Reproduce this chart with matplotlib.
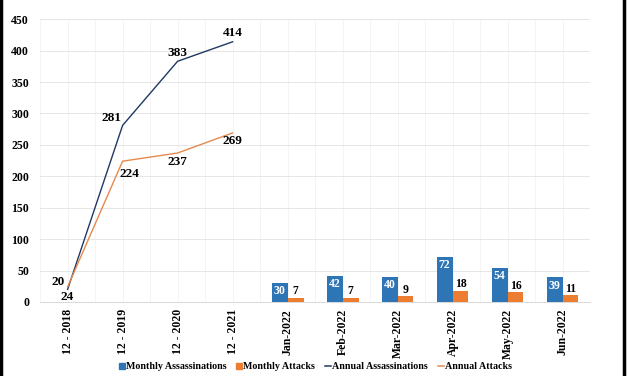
"""
Assassinations and attacks: annual totals as lines, monthly counts as bars.
"""
from matplotlib import pyplot as plt
from matplotlib.lines import Line2D
from matplotlib.patches import Patch
import numpy as np

categories = ['12 - 2018', '12 - 2019', '12 - 2020', '12 - 2021',
              'Jan-2022', 'Feb-2022', 'Mar-2022', 'Apr-2022', 'May-2022', 'Jun-2022']
annual_assassinations = [20, 281, 383, 414]
annual_attacks = [24, 224, 237, 269]
monthly_assassinations = [30, 42, 40, 72, 54, 39]
monthly_attacks = [7, 7, 9, 18, 16, 11]

BLUE_BAR = '#2E75B6'
ORANGE_BAR = '#ED7D31'
NAVY = '#1F3864'
ORANGE_LINE = '#E58A4E'

plt.rcParams['font.family'] = ['Liberation Serif', 'DejaVu Serif']
plt.rcParams['font.weight'] = 'bold'

fig = plt.figure(figsize=(6.27, 3.76), dpi=100)
ax = fig.add_axes([0.064, 0.197, 0.877, 0.752])

x = np.arange(len(categories))
n_year = len(annual_assassinations)
x_year = x[:n_year]
x_month = x[n_year:]
w = 0.29

ax.plot(x_year, annual_assassinations, color=NAVY, lw=1.0, zorder=3)
ax.plot(x_year, annual_attacks, color=ORANGE_LINE, lw=1.0, zorder=3)

ax.bar(x_month - w / 2, monthly_assassinations, w, color=BLUE_BAR, zorder=2)
ax.bar(x_month + w / 2, monthly_attacks, w, color=ORANGE_BAR, zorder=2)

# line labels, offsets in points
lab = dict(fontsize=9.5, fontweight='bold', color='black',
           textcoords='offset points', ha='center', va='center')
ass_off = [(-7, 5), (-8, 5), (0, 6), (0, 6)]
att_off = [(0, -7), (5, -9.5), (0, -6.5), (0, -6)]
for i, v in enumerate(annual_assassinations):
    ax.annotate(str(v), (i, v), xytext=ass_off[i], **lab)
for i, v in enumerate(annual_attacks):
    ax.annotate(str(v), (i, v), xytext=att_off[i], **lab)

# bar labels
for xi, v in zip(x_month, monthly_assassinations):
    ax.annotate(str(v), (xi - w / 2, v), xytext=(0, -6), textcoords='offset points',
                ha='center', va='center', color='white',
                fontsize=8.5, fontweight='bold', zorder=4)
for xi, v in zip(x_month, monthly_attacks):
    ax.annotate(str(v), (xi + w / 2, v), xytext=(0, 4.5), textcoords='offset points',
                ha='center', va='center', color='black',
                fontsize=8.5, fontweight='bold', zorder=4)

ax.set_xlim(-0.5, len(categories) - 0.5)
ax.set_ylim(0, 450)
ax.set_yticks(range(0, 451, 50))
ax.set_xticks(x)
ax.set_xticklabels(categories, rotation=90, fontsize=8.5, fontweight='bold')
ax.tick_params(axis='y', labelsize=8.5, length=0, pad=8)
ax.tick_params(axis='x', length=0, pad=5)

ax.grid(axis='y', color='#e6e6e6', lw=0.7, zorder=0)
for xv in np.arange(-0.5, len(categories), 0.5):
    ax.axvline(xv, color='#f3f3f3', lw=0.6, zorder=0)
for s in ['top', 'right', 'left']:
    ax.spines[s].set_visible(False)
ax.spines['bottom'].set_color('#d9d9d9')
ax.spines['bottom'].set_linewidth(0.7)

handles = [Patch(color=BLUE_BAR), Patch(color=ORANGE_BAR),
           Line2D([], [], color=NAVY, lw=1.1), Line2D([], [], color=ORANGE_LINE, lw=1.1)]
names = ['Monthly Assassinations', 'Monthly Attacks',
         'Annual Assassinations', 'Annual Attacks']
fig.legend(handles, names, loc='center', bbox_to_anchor=(0.503, 0.024), ncol=4,
           frameon=False, handlelength=0.6, handleheight=0.6,
           handletextpad=0.1, columnspacing=1.0, prop={'weight': 'bold', 'size': 7.2})

# frame lines on the left and right edges
fig.add_artist(Line2D([0.002, 0.002], [0, 1], color='black', lw=2.5, transform=fig.transFigure))
fig.add_artist(Line2D([0.996, 0.996], [0, 1], color='black', lw=2.5, transform=fig.transFigure))

fig.savefig('out.png', dpi=100)
